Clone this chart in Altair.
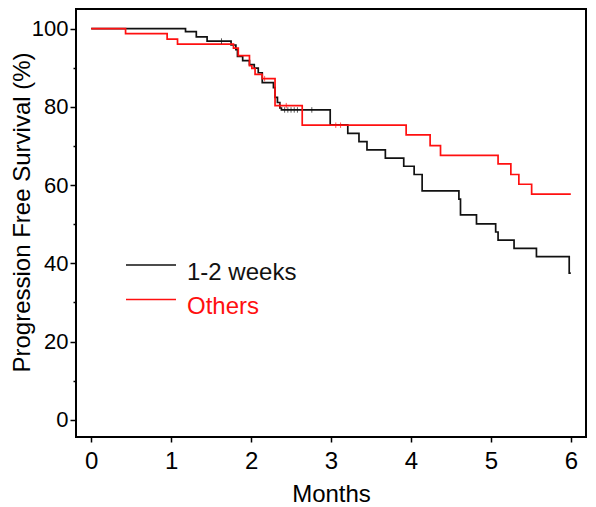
import altair as alt
import pandas as pd

# Kaplan-Meier step data (time in months, survival in %)
black_t = [0, 1.18, 1.315, 1.45, 1.75, 1.81, 1.83, 1.895, 1.98, 2.04, 2.09, 2.14, 2.28, 2.30, 2.33, 2.36, 2.38,
           2.99, 3.21, 3.35, 3.45, 3.68, 3.91, 4.04, 4.14, 4.60, 4.62, 4.82, 5.06, 5.09, 5.29, 5.57, 5.98, 6.0]
black_v = [100, 99.2, 97.9, 96.8, 95.8, 94.6, 92.9, 91.8, 90.8, 89.9, 88.7, 86.2, 84.9, 82.4, 81.1, 79.7, 79.2,
           75.4, 73.2, 71.1, 69.0, 66.9, 64.8, 62.7, 58.5, 56.4, 52.4, 50.1, 48.0, 45.9, 43.8, 41.7, 37.5, 37.5]
red_t = [0, 0.43, 0.95, 1.08, 1.78, 1.84, 1.98, 2.01, 2.05, 2.14, 2.30, 2.64, 3.94, 4.24, 4.37, 5.09, 5.25,
         5.35, 5.51, 6.0]
red_v = [100, 98.7, 97.3, 96.0, 95.0, 93.1, 90.5, 89.8, 88.3, 87.2, 80.3, 75.3, 72.8, 70.1, 67.6, 65.4, 62.7,
         60.2, 57.7, 57.7]

# censoring marks
black_cens_t = [1.63, 2.42, 2.46, 2.50, 2.54, 2.58, 2.76]
black_cens_v = [96.8, 79.2, 79.2, 79.2, 79.2, 79.2, 79.2]
red_cens_t = [2.17, 2.36, 2.44, 3.06, 3.12]
red_cens_v = [87.2, 80.3, 80.3, 75.3, 75.3]

series_names = ["1-2 weeks", "Others"]
series_colors = ["#111111", "#ff1010"]

x_ticks = [0, 1, 2, 3, 4, 5, 6]
y_ticks = [0, 10, 20, 30, 40, 50, 60, 70, 80, 90, 100]

lines_df = pd.concat([
    pd.DataFrame({"t": black_t, "v": black_v, "group": series_names[0]}),
    pd.DataFrame({"t": red_t, "v": red_v, "group": series_names[1]}),
])
cens_df = pd.concat([
    pd.DataFrame({"t": black_cens_t, "v": black_cens_v, "group": series_names[0]}),
    pd.DataFrame({"t": red_cens_t, "v": red_cens_v, "group": series_names[1]}),
])

FONT = "Liberation Sans, Arial, sans-serif"

xscale = alt.Scale(domain=[-0.19, 6.19], nice=False, zero=False)
yscale = alt.Scale(domain=[-4.4, 105.0], nice=False, zero=False)
color = alt.Color("group:N", scale=alt.Scale(domain=series_names, range=series_colors), legend=None)

xaxis = alt.Axis(values=x_ticks, format="d", grid=False, domain=False,
                 tickSize=5, tickWidth=1.5, tickColor="black",
                 labelFont=FONT, labelFontSize=24, labelColor="black", labelPadding=7,
                 title="Months", titleFont=FONT, titleFontSize=24, titleFontWeight="normal",
                 titleColor="black", titlePadding=9)
yaxis = alt.Axis(values=y_ticks, grid=False, domain=False,
                 tickSize={"condition": {"test": "datum.value % 20 === 0", "value": 6}, "value": 3},
                 tickWidth=1.5, tickColor="black",
                 labelExpr="datum.value % 20 === 0 ? datum.label : ''",
                 labelFont=FONT, labelFontSize=22, labelColor="black", labelPadding=2,
                 title="Progression Free Survival (%)", titleFont=FONT, titleFontSize=24,
                 titleFontWeight="normal", titleColor="black", titleX=-42, titleY=203)

lines = alt.Chart(lines_df).mark_line(interpolate="step-after", strokeWidth=1.7).encode(
    x=alt.X("t:Q", scale=xscale, axis=xaxis),
    y=alt.Y("v:Q", scale=yscale, axis=yaxis),
    color=color,
    order=alt.Order("t:Q"),
)

cens = alt.Chart(cens_df).mark_point(shape="stroke", angle=90, size=30, strokeWidth=1, filled=False).encode(
    x=alt.X("t:Q", scale=xscale),
    y=alt.Y("v:Q", scale=yscale),
    color=color,
)

legend_layers = []
for i, (name, col) in enumerate(zip(series_names, series_colors)):
    d = pd.DataFrame({"label": [name]})
    ly = 256 + 34.5 * i
    legend_layers.append(
        alt.Chart(d).mark_rule(color=col, strokeWidth=1.7).encode(
            x=alt.value(50), x2=alt.value(100), y=alt.value(ly))
    )
    legend_layers.append(
        alt.Chart(d).mark_text(align="left", baseline="alphabetic", font=FONT, fontSize=24, color=col).encode(
            x=alt.value(111), y=alt.value(ly + 14.5), text="label:N")
    )

chart = alt.layer(lines, cens, *legend_layers).properties(
    width=510, height=428,
    padding={"left": 68, "top": 1, "right": 2, "bottom": 70},
    autosize=alt.AutoSizeParams(type="none"),
).configure_view(stroke="black", strokeWidth=2)

chart.save("out.html", embed_options={"renderer": "svg", "actions": False})
